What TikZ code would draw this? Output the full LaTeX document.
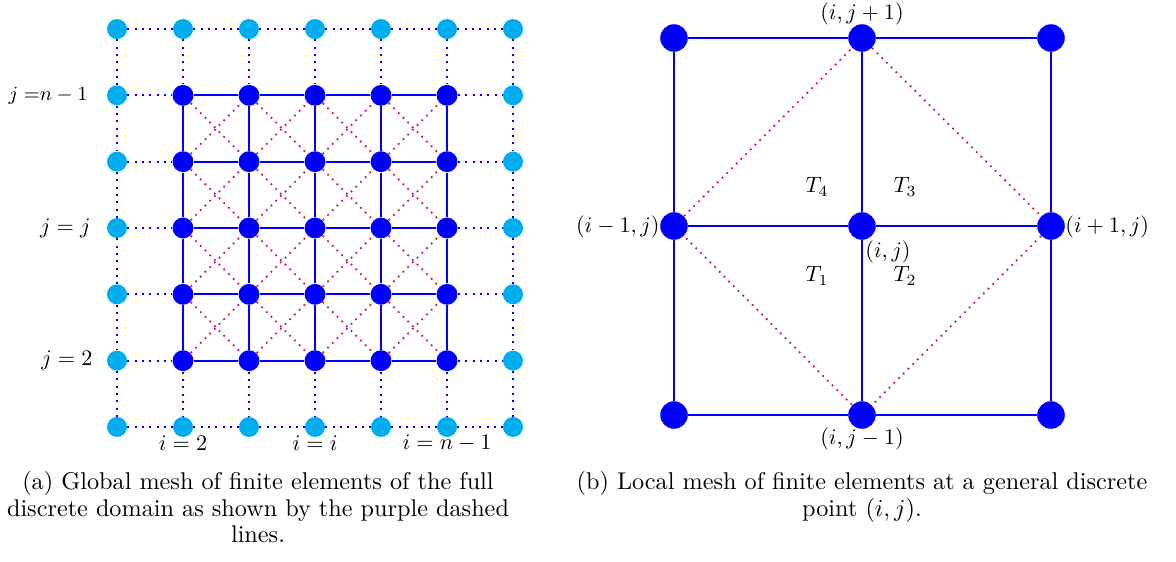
\documentclass[tikz,border=0pt]{standalone}
\usepackage{tikz}
\definecolor{lblue}{RGB}{0,174,239}
\definecolor{dblue}{RGB}{0,0,255}
\definecolor{mred}{RGB}{214,20,80}
\begin{document}
\begin{tikzpicture}[x=0.45pt,y=-0.45pt,
  outerdot/.style={circle,fill=lblue,inner sep=0pt,minimum size=9pt},
  innerdot/.style={circle,fill=dblue,inner sep=0pt,minimum size=9.4pt},
  bigdot/.style={circle,fill=dblue,inner sep=0pt,minimum size=12.4pt},
  solidline/.style={dblue,line width=0.9pt},
  bdots/.style={dblue,line width=0.9pt,dash pattern=on 0.9pt off 2.4pt},
  rdots/.style={mred,line width=0.8pt,dash pattern=on 0.8pt off 2.2pt},
  labeltext/.style={inner sep=0pt,font=\fontsize{10}{12}\selectfont},
  captext/.style={align=center,inner sep=0pt,font=\fontsize{10.9}{12}\selectfont}]
\useasboundingbox (0,0) rectangle (1176,561);
% ---------- left: global mesh ----------
\foreach \i in {0,...,6}{
  \foreach \k in {0,...,6}{
    \pgfmathsetmacro\xx{117+66*\i}
    \pgfmathsetmacro\yy{29+66.33*\k}
    \ifnum\i=0 \node[outerdot] (g\i\k) at (\xx,\yy) {};
    \else\ifnum\i=6 \node[outerdot] (g\i\k) at (\xx,\yy) {};
    \else\ifnum\k=0 \node[outerdot] (g\i\k) at (\xx,\yy) {};
    \else\ifnum\k=6 \node[outerdot] (g\i\k) at (\xx,\yy) {};
    \else \node[innerdot] (g\i\k) at (\xx,\yy) {};
    \fi\fi\fi\fi
  }
}
% outer dotted perimeter
\foreach \a/\b in {0/1,1/2,2/3,3/4,4/5,5/6}{
  \draw[bdots] (g\a0) -- (g\b0);
  \draw[bdots] (g\a6) -- (g\b6);
  \draw[bdots] (g0\a) -- (g0\b);
  \draw[bdots] (g6\a) -- (g6\b);
}
% dotted links to inner grid
\foreach \k in {1,...,5}{
  \draw[bdots] (g0\k) -- (g1\k);
  \draw[bdots] (g5\k) -- (g6\k);
  \draw[bdots] (g\k0) -- (g\k1);
  \draw[bdots] (g\k5) -- (g\k6);
}
% inner solid grid
\foreach \a/\b in {1/2,2/3,3/4,4/5}{
  \foreach \k in {1,...,5}{
    \draw[solidline] (g\a\k) -- (g\b\k);
    \draw[solidline] (g\k\a) -- (g\k\b);
  }
}
% red diagonals
\foreach \a/\b in {1/2,2/3,3/4,4/5}{
  \foreach \c/\d in {1/2,2/3,3/4,4/5}{
    \draw[rdots] (g\a\c) -- (g\b\d);
    \draw[rdots] (g\a\d) -- (g\b\c);
  }
}
\node[labeltext,anchor=east,font=\fontsize{9.4}{11}\selectfont] (lj1) at (88,96) {$j \mathrel{=}\mkern-5mu n-1$};
\node[labeltext,anchor=east] (lj2) at (91,228) {$j=j$};
\node[labeltext,anchor=east] (lj3) at (93,360) {$j=2$};
\node[labeltext] (li1) at (183,443) {$i=2$};
\node[labeltext] (li2) at (315,443) {$i=i$};
\node[labeltext] (li3) at (447,443) {$i=n-1$};
% ---------- right: local mesh ----------
\foreach \i/\xx in {0/674,1/862,2/1051}{
  \foreach \k/\yy in {0/38,1/226,2/415}{
    \node[bigdot] (p\i\k) at (\xx,\yy) {};
  }
}
\foreach \k in {0,1,2}{
  \draw[solidline] (p0\k) -- (p1\k);
  \draw[solidline] (p1\k) -- (p2\k);
  \draw[solidline] (p\k0) -- (p\k1);
  \draw[solidline] (p\k1) -- (p\k2);
}
\draw[rdots] (p10) -- (p21);
\draw[rdots] (p21) -- (p12);
\draw[rdots] (p12) -- (p01);
\draw[rdots] (p01) -- (p10);
\node[labeltext] (lt) at (862,14) {$(i,j+1)$};
\node[labeltext] (lb) at (862,439) {$(i,j-1)$};
\node[labeltext,anchor=east] (ll) at (660,227) {$(i-1,j)$};
\node[labeltext,anchor=west] (lr) at (1065,227) {$(i+1,j)$};
\node[labeltext] (lc) at (888,252) {$(i,j)$};
\node[labeltext] (t4) at (817,187) {$T_4$};
\node[labeltext] (t3) at (905,187) {$T_3$};
\node[labeltext] (t1) at (817,276) {$T_1$};
\node[labeltext] (t2) at (905,276) {$T_2$};
% ---------- captions ----------
\node[captext,anchor=north] (capa) at (258,471) {(a) Global mesh of finite elements of the full\\discrete domain as shown by the purple dashed\\lines.};
\node[captext,anchor=north] (capb) at (862,471) {(b) Local mesh of finite elements at a general discrete\\point $(i,j)$.};
\end{tikzpicture}
\end{document}
